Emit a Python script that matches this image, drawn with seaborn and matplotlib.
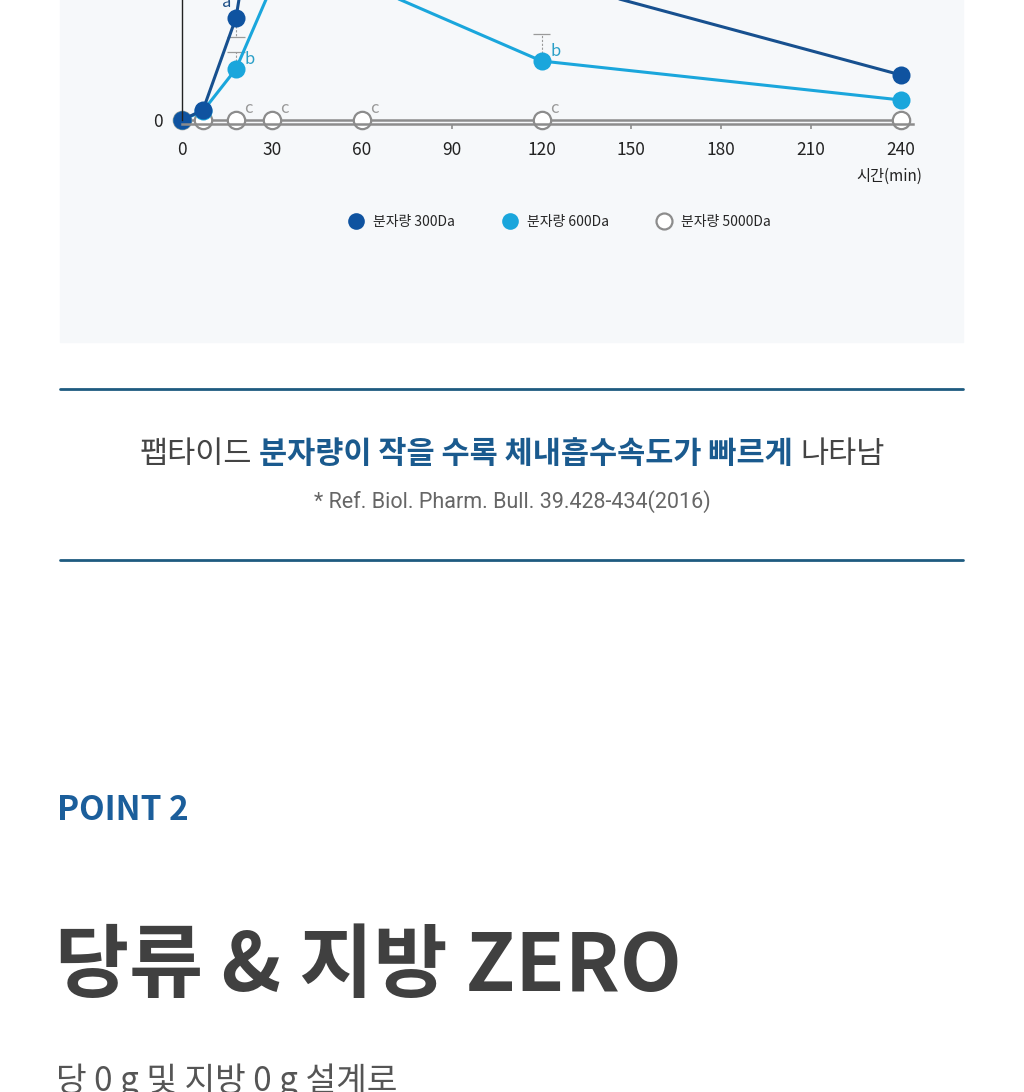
import matplotlib
matplotlib.use('Agg')
import numpy as np
import pandas as pd
import matplotlib.pyplot as plt
import seaborn as sns
from matplotlib.lines import Line2D
from matplotlib.patches import Rectangle

# Chart values (y in arbitrary units, the top of the chart is cut off)
time_min = [0, 7, 18, 30, 60, 120, 240]
conc_300 = [0, 10, 102, 320, 290, 142, 45]
conc_600 = [0, 9, 51, 134, 137, 59, 20]
conc_5000 = [0, 0, 0, 0, 0, 0, 0]
series_labels = ['분자량 300Da', '분자량 600Da', '분자량 5000Da']

err_300_low = [0, 0, 19, 0, 0, 0, 0]
err_600_high = [0, 0, 17, 0, 0, 27, 0]
letters_300 = ['', '', 'a', '', '', '', '']
letters_600 = ['', '', 'b', '', '', 'b', '']
letters_5000 = ['', '', 'c', 'c', 'c', 'c', '']

x_ticks = [0, 30, 60, 90, 120, 150, 180, 210, 240]

dark_blue = '#0f53a0'
light_blue = '#1aa6dc'
gray = '#8c8c8c'

df = pd.DataFrame({
    'time': time_min * 3,
    'conc': conc_300 + conc_600 + conc_5000,
    'series': [series_labels[0]] * 7 + [series_labels[1]] * 7 + [series_labels[2]] * 7,
})

sns.set_theme(style='white')
plt.rcParams['font.family'] = ['Noto Sans CJK KR', 'DejaVu Sans']

W, H = 1024, 1092
fig = plt.figure(figsize=(W / 100, H / 100), dpi=100, facecolor='white')


def fx(px):
    return px / W


def fy(py):
    return 1 - py / H


# light panel behind the chart
fig.add_artist(Rectangle((fx(60), fy(342)), fx(963) - fx(60), 342 / H + 0.01,
                         transform=fig.transFigure, color='#f6f8fa', zorder=-1))

# axes: top runs off the figure like the cropped screenshot
ylo, yhi = -3.5, 400
ax = fig.add_axes([fx(182), fy(123.5), fx(913) - fx(182), (yhi - ylo) / H])
ax.set_facecolor('none')

# 5000Da first, then 600Da, then 300Da on top
sub = df[df['series'] == series_labels[2]]
sns.lineplot(data=sub, x='time', y='conc', ax=ax, color=gray, linewidth=1.8,
             marker='o', markersize=12.5, markerfacecolor='white', clip_on=False,
             markeredgecolor=gray, markeredgewidth=1.6, errorbar=None, legend=False)
sub = df[df['series'] == series_labels[1]]
sns.lineplot(data=sub, x='time', y='conc', ax=ax, color=light_blue, linewidth=2.2,
             marker='o', markersize=13, markerfacecolor=light_blue, clip_on=False,
             markeredgecolor=light_blue, markeredgewidth=0, errorbar=None, legend=False)
sub = df[df['series'] == series_labels[0]]
sns.lineplot(data=sub, x='time', y='conc', ax=ax, color='#17508f', linewidth=2.2,
             marker='o', markersize=13, markerfacecolor=dark_blue, clip_on=False,
             markeredgecolor=dark_blue, markeredgewidth=0, errorbar=None, legend=False)

# one-sided error bars (dashed stem + cap)
t = np.array(time_min)
for y, err, sign in [(np.array(conc_300), np.array(err_300_low), -1),
                     (np.array(conc_600), np.array(err_600_high), 1)]:
    m = err > 0
    ends = y[m] + sign * err[m]
    ax.vlines(t[m], y[m], ends, colors='#9a9a9a', linestyles=(0, (2, 1.5)),
              linewidth=0.8, zorder=1.5)
    ax.hlines(ends, t[m] - 3, t[m] + 3, colors='#9a9a9a', linewidth=0.9, zorder=1.5)

# significance letters
for ti, yi, s in zip(time_min, conc_300, letters_300):
    if s:
        ax.annotate(s, (ti, yi), xytext=(-7, 11), textcoords='offset points',
                    ha='center', va='center', fontsize=12, color='#1d4f86')
for ti, yi, s in zip(time_min, conc_600, letters_600):
    if s:
        ax.annotate(s, (ti, yi), xytext=(10, 7), textcoords='offset points',
                    ha='center', va='center', fontsize=12, color='#2a9fc7')
for ti, yi, s in zip(time_min, conc_5000, letters_5000):
    if s:
        ax.annotate(s, (ti, yi), xytext=(9, 8.5), textcoords='offset points',
                    ha='center', va='center', fontsize=12, color='#999999')

ax.set_xlim(0, 244)
ax.set_ylim(ylo, yhi)
ax.set_xticks(x_ticks)
ax.set_xticklabels([str(v) for v in x_ticks])
ax.set_yticks([0])
ax.set_yticklabels(['0'])
ax.set_xlabel('')
ax.set_ylabel('')
for side in ['top', 'right']:
    ax.spines[side].set_visible(False)
ax.spines['bottom'].set_color(gray)
ax.spines['bottom'].set_linewidth(1.8)
ax.spines['left'].set_color('#222222')
ax.spines['left'].set_linewidth(1.0)
ax.spines['left'].set_bounds(0, yhi)
ax.tick_params(axis='x', colors=gray, length=3.5, width=1.2, direction='out',
               pad=9, labelsize=12.5, labelcolor='#222222', bottom=True)
ax.tick_params(axis='y', length=0, pad=14, labelsize=12.5, labelcolor='#222222', left=True)

fig.text(fx(922), fy(176), '시간(min)', ha='right', va='center', fontsize=11, color='#222222')

handles = [
    Line2D([], [], linestyle='none', marker='o', markersize=12, markerfacecolor=dark_blue,
           markeredgecolor=dark_blue, markeredgewidth=0),
    Line2D([], [], linestyle='none', marker='o', markersize=12, markerfacecolor=light_blue,
           markeredgecolor=light_blue, markeredgewidth=0),
    Line2D([], [], linestyle='none', marker='o', markersize=11.5, markerfacecolor='white',
           markeredgecolor=gray, markeredgewidth=1.6),
]
fig.legend(handles, series_labels, loc='center', bbox_to_anchor=(fx(560), fy(222)),
           ncol=3, frameon=False, handlelength=1.0, handletextpad=0.7,
           columnspacing=3.5, prop={'weight': 'medium', 'size': 10})

# section rules
for py in [389, 560]:
    fig.add_artist(Line2D([fx(60), fx(963)], [fy(py), fy(py)], transform=fig.transFigure,
                          color='#1e5b80', linewidth=2))

# headline sentence with a coloured middle part, centred on the page
y_line = fy(454)
size = 22
t1 = fig.text(0, y_line, '팹타이드', ha='left', va='center', fontsize=size, color='#444444')
t2 = fig.text(0, y_line, '분자량이 작을 수록 체내흡수속도가 빠르게', ha='left', va='center',
              fontsize=size, color='#1a5a8e', fontweight='bold')
t3 = fig.text(0, y_line, '나타남', ha='left', va='center', fontsize=size, color='#444444')
r = fig.canvas.get_renderer()
space = 7
w1 = t1.get_window_extent(r).width
w2 = t2.get_window_extent(r).width
w3 = t3.get_window_extent(r).width
x0 = 512 - (w1 + w2 + w3 + 2 * space) / 2
t1.set_position((fx(x0), y_line))
t2.set_position((fx(x0 + w1 + space), y_line))
t3.set_position((fx(x0 + w1 + w2 + 2 * space), y_line))

fig.text(fx(512), fy(502), '* Ref. Biol. Pharm. Bull. 39.428-434(2016)', ha='center',
         va='center', fontsize=15.5, color='#666666', family=['Roboto', 'DejaVu Sans'])

fig.text(fx(57), fy(811), 'POINT 2', ha='left', va='center', fontsize=24,
         color='#1b5e9b', fontweight='bold')
fig.text(fx(55), fy(967), '당류 & 지방 ZERO', ha='left', va='center', fontsize=58,
         color='#404040', fontweight='bold')
fig.text(fx(56), fy(1081), '당 0 g 및 지방 0 g 설계로', ha='left', va='center', fontsize=24,
         color='#555555', fontweight='light')

fig.savefig('out.png', dpi=100)
